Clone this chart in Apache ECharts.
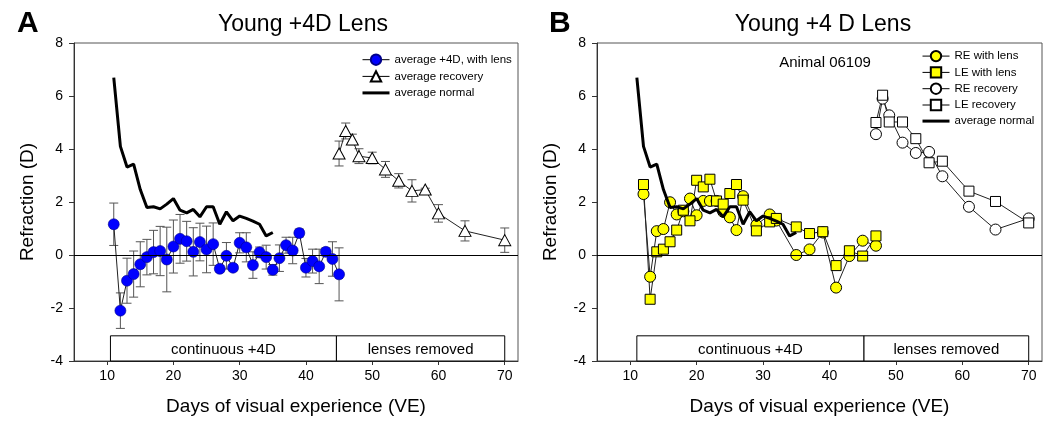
<!DOCTYPE html>
<html>
<head>
<meta charset="utf-8">
<script src="https://cdn.jsdelivr.net/npm/echarts@6/dist/echarts.min.js"></script>
<style>
html,body{margin:0;padding:0;background:#fff;}
#chart{width:1050px;height:428px;}
</style>
</head>
<body>
<div id="chart"></div>
<script>
// ---------------- DATA ----------------
const xTickValues = [10, 20, 30, 40, 50, 60, 70];

// Panel A: average +4D with lens (mean, +/- error)
const lensDaysA = [11,12,13,14,15,16,17,18,19,20,21,22,23,24,25,26,27,28,29,30,31,32,33,34,35,36,37,38,39,40,41,42,43,44,45];
const lensMeanA = [1.16,-2.10,-0.97,-0.72,-0.35,-0.08,0.11,0.15,-0.17,0.32,0.61,0.52,0.12,0.49,0.21,0.41,-0.52,-0.03,-0.48,0.46,0.29,-0.38,0.10,-0.08,-0.56,-0.12,0.37,0.17,0.83,-0.48,-0.23,-0.43,0.12,-0.15,-0.73];
const lensErrA  = [0.80,0.67,0.85,0.87,0.85,0.67,0.82,0.93,1.22,1.00,0.92,0.75,0.91,0.71,0.88,0.80,0.12,0.50,0.12,0.38,0.55,0.50,0.20,0.45,0.20,0.50,0.30,0.50,0.15,0.35,0.45,0.65,0.15,0.65,1.00];

// Panel A: average recovery
const recDaysA = [45,46,47,48,50,52,54,56,58,60,64,70];
const recMeanA = [3.83,4.68,4.36,3.73,3.66,3.23,2.80,2.42,2.47,1.57,0.91,0.56];
const recErrA  = [0.47,0.30,0.20,0.28,0.22,0.30,0.27,0.42,0.05,0.33,0.38,0.46];

// Average normal (both panels)
const normalDays = [11,12,13,14,15,16,17,18,19,20,21,22,23,24,25,26,27,28,29,30,31,32,33,34,35];
const normalMean = [6.69,4.10,3.32,3.43,2.47,1.79,1.82,1.74,1.92,2.13,1.69,1.59,1.72,1.44,1.82,1.82,1.16,1.63,1.29,1.47,1.38,1.28,1.16,0.72,0.85];

// Panel B: animal 06109, with lens
const lensDaysB = [12,13,14,15,16,17,18,19,20,21,22,23,24,25,26,27,29,31,32,35,37,39,41,43,45,47];
const reLensB   = [2.30,-0.82,0.90,0.98,1.99,1.53,1.65,2.13,1.50,2.04,2.04,2.04,1.63,1.42,0.94,2.22,1.13,1.53,1.30,0.00,0.21,0.85,-1.23,-0.04,0.54,0.35];
const leLensB   = [2.66,-1.67,0.12,0.22,0.50,0.94,1.69,1.29,2.82,2.57,2.86,2.04,1.92,2.32,2.66,2.07,0.91,1.25,1.38,1.06,0.81,0.88,-0.40,0.16,-0.04,0.72];

// Panel B: recovery
const recDaysB = [47,48,49,51,53,55,57,61,65,70];
const reRecB   = [4.56,5.90,5.27,4.24,3.85,3.89,2.97,1.82,0.96,1.38];
const leRecB   = [5.00,6.03,5.02,5.02,4.39,3.48,3.54,2.41,2.02,1.21];

// Experimental phases (start day, end day, label)
const phasesA = [[10.5, 44.6, 'continuous +4D'], [44.6, 70, 'lenses removed']];
const phasesB = [[11, 45.2, 'continuous +4D'], [45.2, 70, 'lenses removed']];

// ---------------- CHART ----------------
const FONT = 'Liberation Sans, Arial, sans-serif';
const zip = (xs, ys) => xs.map((x, i) => [x, ys[i]]);
const errData = (xs, m, e) => xs.map((x, i) => [x, m[i] - e[i], m[i] + e[i]]);
const BOX_TOP = -3.05;

function errRender(params, api) {
  const x = api.value(0), lo = api.value(1), hi = api.value(2);
  const a = api.coord([x, hi]), b = api.coord([x, lo]);
  const w = 4.5;
  const st = {stroke: '#555', lineWidth: 1};
  return {type: 'group', children: [
    {type: 'line', shape: {x1: a[0], y1: a[1], x2: b[0], y2: b[1]}, style: st},
    {type: 'line', shape: {x1: a[0]-w, y1: a[1], x2: a[0]+w, y2: a[1]}, style: st},
    {type: 'line', shape: {x1: b[0]-w, y1: b[1], x2: b[0]+w, y2: b[1]}, style: st}
  ]};
}
function phaseRender(phases) {
  return function (params, api) {
    const s = api.value(0), e = api.value(1);
    const p1 = api.coord([s, BOX_TOP]), p2 = api.coord([e, -4]);
    return {type: 'group', children: [
      {type: 'rect', shape: {x: p1[0], y: p1[1], width: p2[0]-p1[0], height: p2[1]-p1[1]},
       style: {fill: '#fff', stroke: '#000', lineWidth: 1}},
      {type: 'text', style: {text: phases[params.dataIndex][2], x: (p1[0]+p2[0])/2, y: (p1[1]+p2[1])/2 + 1,
        align: 'center', verticalAlign: 'middle', fill: '#000', fontSize: 15, fontFamily: FONT}}
    ]};
  };
}

function xAxis(gi) {
  return {
    type: 'value', gridIndex: gi, min: 5, max: 72,
    name: 'Days of visual experience (VE)', nameLocation: 'middle', nameGap: 36,
    nameTextStyle: {fontSize: 19, fontFamily: FONT, color: '#000'},
    axisLine: {show: true, onZero: false, lineStyle: {color: '#333', width: 1}},
    axisTick: {show: true, length: 4, customValues: xTickValues, lineStyle: {color: '#333'}},
    axisLabel: {customValues: xTickValues, margin: 8, fontSize: 14, fontFamily: FONT, color: '#000'},
    splitLine: {show: false}
  };
}
function yAxis(gi) {
  return {
    type: 'value', gridIndex: gi, min: -4, max: 8, interval: 2,
    name: 'Refraction (D)', nameLocation: 'middle', nameGap: 37,
    nameTextStyle: {fontSize: 19, fontFamily: FONT, color: '#000'},
    axisLine: {show: true, lineStyle: {color: '#333', width: 1}},
    axisTick: {show: true, length: 5, lineStyle: {color: '#333'}},
    axisLabel: {margin: 11, fontSize: 14, fontFamily: FONT, color: '#000'},
    splitLine: {show: false}
  };
}

const zeroLine = {silent: true, symbol: 'none', label: {show: false},
  lineStyle: {color: '#000', width: 1, type: 'solid'}, data: [{yAxis: 0}]};

const legendNormal = {name: 'average normal', itemStyle: {opacity: 0}, lineStyle: {width: 3, color: '#000'}};
const legendText = {fontSize: 11.5, lineHeight: 12, fontFamily: FONT, color: '#000'};

const option = {
  animation: false,
  backgroundColor: '#fff',
  textStyle: {fontFamily: FONT},
  title: [
    {text: 'A', left: 12, top: 4, textStyle: {fontSize: 30, fontWeight: 'bold', fontFamily: FONT, color: '#000'}},
    {text: 'Young +4D Lens', left: 298, top: 8, textAlign: 'center', textStyle: {fontSize: 23, fontWeight: 'normal', fontFamily: FONT, color: '#000'}},
    {text: 'B', left: 544, top: 4, textStyle: {fontSize: 30, fontWeight: 'bold', fontFamily: FONT, color: '#000'}},
    {text: 'Young +4 D Lens', left: 818, top: 8, textAlign: 'center', textStyle: {fontSize: 23, fontWeight: 'normal', fontFamily: FONT, color: '#000'}},
    {text: 'Animal 06109', left: 820, top: 50, textAlign: 'center', textStyle: {fontSize: 15, fontWeight: 'normal', fontFamily: FONT, color: '#000'}}
  ],
  grid: [
    {left: 74, top: 43, width: 444, height: 318, show: true, borderColor: '#555', borderWidth: 1, backgroundColor: 'transparent'},
    {left: 597, top: 43, width: 445, height: 318, show: true, borderColor: '#555', borderWidth: 1, backgroundColor: 'transparent'}
  ],
  xAxis: [xAxis(0), xAxis(1)],
  yAxis: [yAxis(0), yAxis(1)],
  legend: [
    {orient: 'vertical', left: 361, top: 53.5, padding: 0, itemWidth: 27, itemHeight: 13, itemGap: 4.3,
     textStyle: legendText, lineStyle: {width: 1, color: '#000'},
     data: ['average +4D, with lens', 'average recovery', legendNormal]},
    {orient: 'vertical', left: 921, top: 49.9, padding: 0, itemWidth: 27, itemHeight: 13, itemGap: 3.9,
     textStyle: legendText, lineStyle: {width: 1, color: '#000'},
     data: ['RE with lens', 'LE with lens', 'RE recovery', 'LE recovery', legendNormal]}
  ],
  series: [
    // ----- Panel A -----
    {type: 'custom', name: 'phasesA', xAxisIndex: 0, yAxisIndex: 0, renderItem: phaseRender(phasesA),
     data: phasesA.map(p => [p[0], p[1], -4]), encode: {x: [0, 1], y: 2}, z: 1, silent: true,
     markLine: zeroLine},
    {type: 'custom', name: 'errA', xAxisIndex: 0, yAxisIndex: 0, renderItem: errRender,
     data: errData(lensDaysA, lensMeanA, lensErrA), encode: {x: 0, y: [1, 2]}, z: 2, silent: true},
    {type: 'custom', name: 'errRecA', xAxisIndex: 0, yAxisIndex: 0, renderItem: errRender,
     data: errData(recDaysA, recMeanA, recErrA), encode: {x: 0, y: [1, 2]}, z: 2, silent: true},
    {type: 'line', name: 'average +4D, with lens', xAxisIndex: 0, yAxisIndex: 0, data: zip(lensDaysA, lensMeanA),
     symbol: 'circle', symbolSize: 11, showAllSymbol: true,
     lineStyle: {color: '#222', width: 1}, itemStyle: {color: '#0000ff', borderColor: '#00008a', borderWidth: 0.6}, z: 3},
    {type: 'line', name: 'average recovery', xAxisIndex: 0, yAxisIndex: 0, data: zip(recDaysA, recMeanA),
     symbol: 'triangle', symbolSize: [12, 11], showAllSymbol: true,
     lineStyle: {color: '#222', width: 1}, itemStyle: {color: '#fff', borderColor: '#000', borderWidth: 1}, z: 3},
    {type: 'line', name: 'average normal', xAxisIndex: 0, yAxisIndex: 0, data: zip(normalDays, normalMean),
     symbol: 'none', lineStyle: {color: '#000', width: 3}, itemStyle: {color: '#000'}, z: 4},
    // ----- Panel B -----
    {type: 'custom', name: 'phasesB', xAxisIndex: 1, yAxisIndex: 1, renderItem: phaseRender(phasesB),
     data: phasesB.map(p => [p[0], p[1], -4]), encode: {x: [0, 1], y: 2}, z: 1, silent: true,
     markLine: zeroLine},
    {type: 'line', name: 'RE with lens', xAxisIndex: 1, yAxisIndex: 1, data: zip(lensDaysB, reLensB),
     symbol: 'circle', symbolSize: 11, showAllSymbol: true,
     lineStyle: {color: '#222', width: 1}, itemStyle: {color: '#ffff00', borderColor: '#000', borderWidth: 1}, z: 3},
    {type: 'line', name: 'LE with lens', xAxisIndex: 1, yAxisIndex: 1, data: zip(lensDaysB, leLensB),
     symbol: 'rect', symbolSize: 10, showAllSymbol: true,
     lineStyle: {color: '#222', width: 1}, itemStyle: {color: '#ffff00', borderColor: '#000', borderWidth: 1}, z: 3},
    {type: 'line', name: 'RE recovery', xAxisIndex: 1, yAxisIndex: 1, data: zip(recDaysB, reRecB),
     symbol: 'circle', symbolSize: 11, showAllSymbol: true,
     lineStyle: {color: '#222', width: 1}, itemStyle: {color: '#fff', borderColor: '#000', borderWidth: 1}, z: 3},
    {type: 'line', name: 'LE recovery', xAxisIndex: 1, yAxisIndex: 1, data: zip(recDaysB, leRecB),
     symbol: 'rect', symbolSize: 10, showAllSymbol: true,
     lineStyle: {color: '#222', width: 1}, itemStyle: {color: '#fff', borderColor: '#000', borderWidth: 1}, z: 3},
    {type: 'line', name: 'average normal', xAxisIndex: 1, yAxisIndex: 1, data: zip(normalDays, normalMean),
     symbol: 'none', lineStyle: {color: '#000', width: 3}, itemStyle: {color: '#000'}, z: 4}
  ]
};

const chart = echarts.init(document.getElementById('chart'), null, {renderer: 'canvas'});
chart.setOption(option);
</script>
</body>
</html>
